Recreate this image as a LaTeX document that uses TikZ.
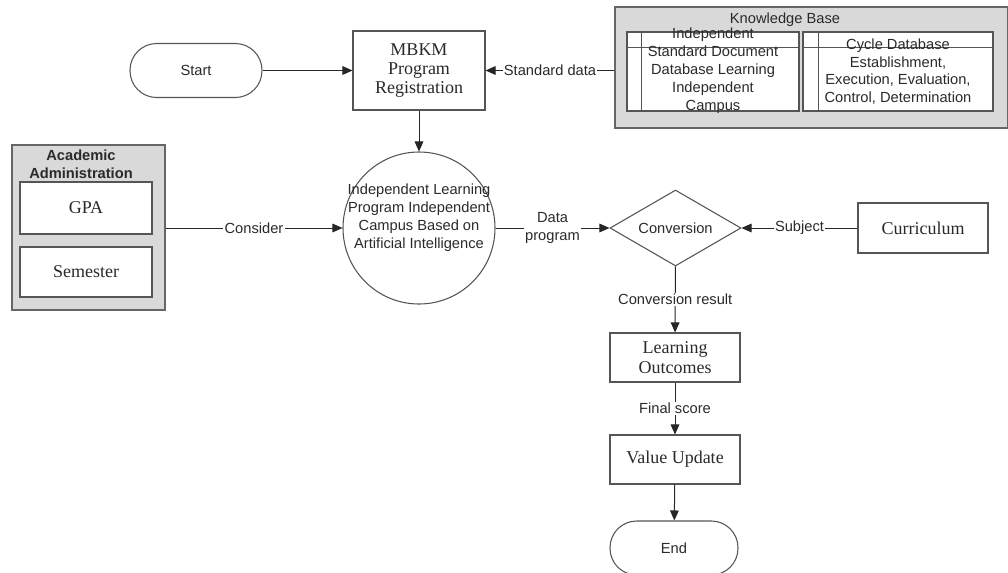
\documentclass[tikz,border=0pt]{standalone}
\usepackage{fontspec}
\setmainfont{Liberation Sans}
\newfontfamily\seriffam{Liberation Serif}
\usetikzlibrary{shapes.geometric,arrows.meta}
\definecolor{boxgray}{HTML}{D9D9D9}
\definecolor{edge}{HTML}{555555}
\definecolor{ink}{HTML}{2A2A2A}
\begin{document}
\begin{tikzpicture}[x=0.75pt,y=-0.75pt,
  sans/.style={font=\fontsize{11}{13.5}\selectfont, text=ink},
  sbox/.style={draw=edge, line width=0.8pt, fill=white, align=center, inner sep=0pt,
     text=ink, font=\seriffam\fontsize{13.5}{14}\selectfont},
  term/.style={draw=edge, line width=0.8pt, fill=white, rounded corners=20pt,
     minimum width=99pt, minimum height=40.5pt, inner sep=0pt, text=ink,
     font=\fontsize{11}{13.5}\selectfont},
  gbox/.style={draw=black!60, line width=0.8pt, fill=boxgray, inner sep=0pt},
  tbl/.style={draw=edge, line width=0.8pt, fill=white, inner sep=0pt},
  arr/.style={draw=black!85, line width=0.75pt, -{Triangle[length=7.5pt,width=6.5pt]}},
  lbl/.style={fill=white, inner sep=1pt, text=ink, font=\fontsize{11}{13}\selectfont}
]
\useasboundingbox (0,0) rectangle (1008,572);

% Start and registration
\node[term] (start) at (196,70.5) {Start};
\node[sbox, minimum width=99pt, minimum height=59.25pt] (mbkm) at (419,70.5) {MBKM\\Program\\Registration};

% Knowledge base
\node[gbox, minimum width=294.75pt, minimum height=90.75pt] (kb) at (811.5,67.5) {};
\node[sans] (kbtitle) at (785,20) {Knowledge Base};
\node[tbl, minimum width=129pt, minimum height=59.25pt] (kbl) at (713,71.5) {};
\draw[edge, line width=0.8pt] ([xshift=11.25pt]kbl.north west) -- ([xshift=11.25pt]kbl.south west);
\draw[edge, line width=0.8pt] ([yshift=-12pt]kbl.north west) -- ([yshift=-12pt]kbl.north east);
\node[tbl, minimum width=142.5pt, minimum height=59.25pt] (kbr) at (898,71.5) {};
\draw[edge, line width=0.8pt] ([xshift=12pt]kbr.north west) -- ([xshift=12pt]kbr.south west);
\draw[edge, line width=0.8pt] ([yshift=-12pt]kbr.north west) -- ([yshift=-12pt]kbr.north east);
\node[sans, align=center] (kbltext) at (713,71) {Independent\\Standard Document\\Database Learning\\Independent\\Campus};
\node[sans, align=center, font=\fontsize{11}{13.3}\selectfont] (kbrtext) at (898,71.5) {Cycle Database\\Establishment,\\Execution, Evaluation,\\Control, Determination};

% Academic administration
\node[gbox, minimum width=114.75pt, minimum height=123.75pt] (acad) at (88.5,227.5) {};
\node[sans, align=center, font=\bfseries\fontsize{11}{13.5}\selectfont] (acadtitle) at (81,164) {Academic\\Administration};
\node[sbox, minimum width=99pt, minimum height=39pt] (gpa) at (86,208) {GPA};
\node[sbox, minimum width=99pt, minimum height=37.5pt] (sem) at (86,272) {Semester};

% Central process
\node[circle, draw=edge, line width=0.8pt, minimum size=114pt, inner sep=0pt] (ilp) at (419,228) {};
\node[sans, align=center] (ilptext) at (419,218) {Independent Learning\\Program Independent\\Campus Based on\\Artificial Intelligence};

% Conversion
\node[diamond, draw=edge, line width=0.8pt, fill=white, inner sep=0pt, shape aspect=1.7,
      minimum width=98.25pt, minimum height=57pt, text=ink, font=\fontsize{11}{13.5}\selectfont] (conv) at (675.5,228) {Conversion};
\node[sbox, minimum width=97.5pt, minimum height=37.5pt] (curr) at (923,228) {Curriculum};
\node[sbox, minimum width=97.5pt, minimum height=36.75pt, font=\seriffam\fontsize{13.5}{15.5}\selectfont] (lo) at (675,357.5) {Learning\\Outcomes};
\node[sbox, minimum width=97.5pt, minimum height=36.75pt] (vu) at (675,459.5) {Value Update};
\node[term, minimum width=96pt] (end) at (674,548) {End};

% Connectors
\draw[arr] (start) -- (mbkm);
\draw[arr] (kb.west |- mbkm.east) -- node[lbl]{Standard data} (mbkm.east);
\draw[arr] (mbkm) -- (ilp);
\draw[arr] (acad.east |- ilp.west) -- node[lbl]{Consider} (ilp.west);
\draw[arr] (ilp) -- node[lbl, align=center]{Data\\program} (conv);
\draw[arr] (curr) -- node[lbl]{Subject} (conv);
\draw[arr] (conv) -- node[lbl]{Conversion result} (lo);
\draw[arr] (lo) -- node[lbl]{Final score} (vu);
\draw[arr] (vu) -- (end);
\end{tikzpicture}
\end{document}
